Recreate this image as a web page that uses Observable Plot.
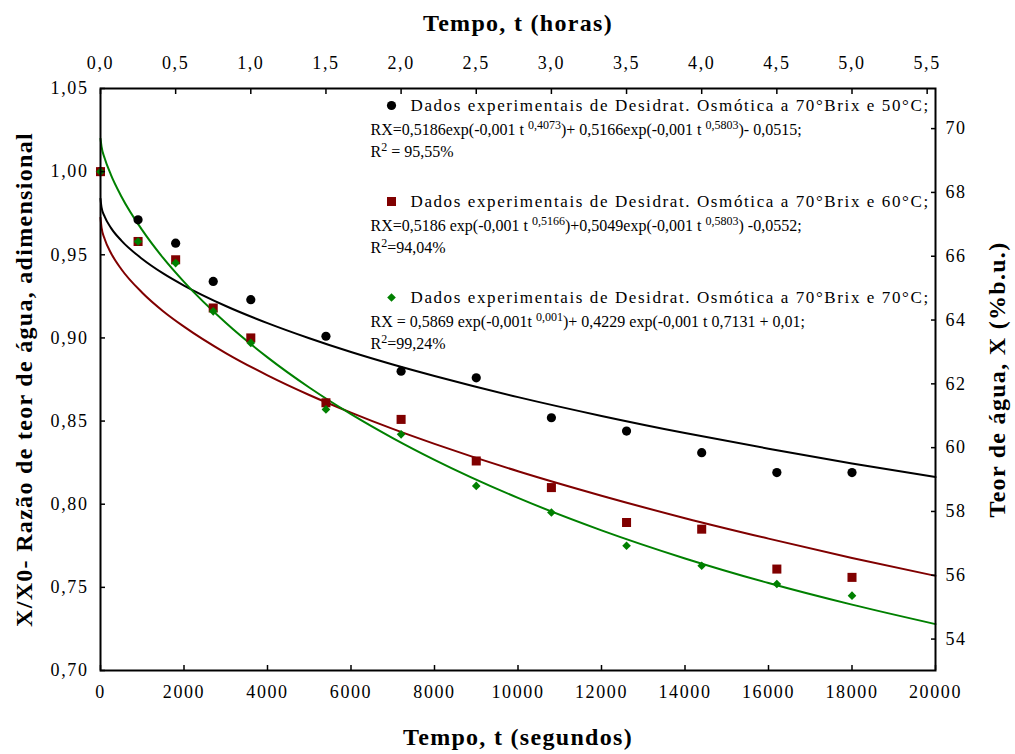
<!DOCTYPE html>
<html>
<head>
<meta charset="utf-8">
<script src="https://cdn.jsdelivr.net/npm/d3@7"></script>
<script src="https://cdn.jsdelivr.net/npm/@observablehq/plot@0.6"></script>
<style>
  html, body { margin: 0; padding: 0; background: #fff; }
</style>
</head>
<body>
<div id="chart"></div>
<script>
// ---- Data ----
const timesS = [0, 900, 1800, 2700, 3600, 5400, 7200, 9000, 10800, 12600, 14400, 16200, 18000];
const ratio50 = [1.000, 0.971, 0.957, 0.934, 0.923, 0.901, 0.880, 0.876, 0.852, 0.844, 0.831, 0.819, 0.819];
const ratio60 = [1.000, 0.958, 0.947, 0.918, 0.900, 0.861, 0.851, 0.826, 0.810, 0.789, 0.785, 0.761, 0.756];
const ratio70 = [1.000, 0.958, 0.945, 0.916, 0.897, 0.857, 0.842, 0.811, 0.795, 0.775, 0.763, 0.752, 0.745];

const fitT  = [0, 25, 100, 250, 500, 1000, 1500, 2000, 3000, 4000, 5000, 6000, 7000, 8000, 10000, 12000, 14000, 16000, 18000, 20000];
const fit50 = [0.9837, 0.9785, 0.9729, 0.9662, 0.9585, 0.9475, 0.9388, 0.9315, 0.9192, 0.9089, 0.8998, 0.8915, 0.8840, 0.8771, 0.8644, 0.8531, 0.8428, 0.8334, 0.8245, 0.8163];
const fit60 = [0.9723, 0.9663, 0.9595, 0.9511, 0.9413, 0.9272, 0.9161, 0.9068, 0.8909, 0.8775, 0.8657, 0.8551, 0.8453, 0.8363, 0.8198, 0.8051, 0.7916, 0.7793, 0.7677, 0.7569];
const fit70 = [1.0198, 1.0150, 1.0081, 0.9981, 0.9851, 0.9648, 0.9481, 0.9337, 0.9091, 0.8883, 0.8702, 0.8542, 0.8398, 0.8267, 0.8038, 0.7843, 0.7674, 0.7526, 0.7396, 0.7279];

const xTicks = [0, 2000, 4000, 6000, 8000, 10000, 12000, 14000, 16000, 18000, 20000];
const hourTicks = [0, 0.5, 1, 1.5, 2, 2.5, 3, 3.5, 4, 4.5, 5, 5.5];
const yTicks = [0.70, 0.75, 0.80, 0.85, 0.90, 0.95, 1.00, 1.05];
const rightTicks = [54, 56, 58, 60, 62, 64, 66, 68, 70];
// right axis (Teor de água) as a linear re-labelling of the left scale
const rightRatioAt54 = 0.7189, rightRatioPerUnit = 0.019186;

const seriesColors = ["#000000", "#800000", "#008000"];
const seriesSymbols = ["circle", "square", "diamond2"];
const seriesR = [4.6, 5.1, 3.9];

const legendHeaders = [
  "Dados experimentais de Desidrat. Osmótica a 70°Brix e 50°C;",
  "Dados experimentais de Desidrat. Osmótica a 70°Brix e 60°C;",
  "Dados experimentais de Desidrat. Osmótica a 70°Brix e 70°C;"
];
const legendFormulas = [
  "RX=0,5186exp(-0,001 t ^{0,4073})+ 0,5166exp(-0,001 t ^{0,5803})- 0,0515;",
  "RX=0,5186 exp(-0,001 t ^{0,5166})+0,5049exp(-0,001 t ^{0,5803}) -0,0552;",
  "RX = 0,5869 exp(-0,001t ^{0,001})+ 0,4229 exp(-0,001 t 0,7131 + 0,01;"
];
const legendR2 = ["R^{2} = 95,55%", "R^{2}=94,04%", "R^{2}=99,24%"];

// ---- Build tables ----
const obsValues = [ratio50, ratio60, ratio70];
const fitValues = [fit50, fit60, fit70];
const toRatio = v => rightRatioAt54 + (v - 54) * rightRatioPerUnit;
const fromRatio = r => 54 + (r - rightRatioAt54) / rightRatioPerUnit;
const comma = (v, n) => v.toFixed(n).replace(".", ",");
const serif = "'Liberation Serif', 'Times New Roman', serif";

const marks = [];
fitValues.forEach((vals, s) => {
  const rows = fitT.map((t, i) => ({t, r: vals[i]}));
  marks.push(Plot.line(rows, {x: "t", y: "r", stroke: seriesColors[s], strokeWidth: 2, curve: "monotone-x"}));
});
obsValues.forEach((vals, s) => {
  const rows = timesS.map((t, i) => ({t, r: vals[i]}));
  marks.push(Plot.dot(rows, {x: "t", y: "r", symbol: seriesSymbols[s], r: seriesR[s], fill: seriesColors[s], stroke: "none"}));
});

marks.push(Plot.frame({stroke: "black", strokeWidth: 2}));
const axisCommon = {tickSize: -5, strokeWidth: 1.5, fontSize: 18, fontFamily: serif, label: null, fill: "black"};
marks.push(Plot.axisX(xTicks, {...axisCommon, anchor: "bottom", tickPadding: 20, tickFormat: d => String(d)}));
marks.push(Plot.axisX(hourTicks.map(h => h * 3600), {...axisCommon, anchor: "top", tickPadding: 25, tickFormat: d => comma(d / 3600, 1)}));
marks.push(Plot.axisY(yTicks, {...axisCommon, anchor: "left", tickPadding: 17, tickFormat: d => comma(d, 2)}));
marks.push(Plot.axisY(rightTicks.map(toRatio), {...axisCommon, anchor: "right", tickPadding: 15, tickFormat: d => String(Math.round(fromRatio(d)))}));

const titleStyle = {fontSize: 24, fontWeight: "bold", fontFamily: serif, fill: "black", textAnchor: "middle", lineAnchor: "middle"};
marks.push(Plot.text(["Tempo, t (horas)"], {...titleStyle, frameAnchor: "top", dy: -65}));
marks.push(Plot.text(["Tempo, t (segundos)"], {...titleStyle, frameAnchor: "bottom", dy: 67}));
marks.push(Plot.text(["X/X0- Razão de teor de água, adimensional"], {...titleStyle, frameAnchor: "left", dx: -76, rotate: -90}));
marks.push(Plot.text(["Teor de água, X (%b.u.)"], {...titleStyle, frameAnchor: "right", dx: 62, rotate: -90}));

legendHeaders.forEach((h, i) => {
  const top = 17 + i * 96;
  marks.push(Plot.dot([h], {frameAnchor: "top-left", dx: 291, dy: top, symbol: seriesSymbols[i], r: seriesR[i], fill: seriesColors[i], stroke: "none"}));
  marks.push(Plot.text([h], {frameAnchor: "top-left", dx: 310, dy: top, textAnchor: "start", lineAnchor: "middle", fontSize: 17, fontFamily: serif, fill: "black"}));
  marks.push(Plot.text([legendFormulas[i]], {frameAnchor: "top-left", dx: 270, dy: top + 24, textAnchor: "start", lineAnchor: "middle", fontSize: 16, fontFamily: serif, fill: "black"}));
  marks.push(Plot.text([legendR2[i]], {frameAnchor: "top-left", dx: 270, dy: top + 46.5, textAnchor: "start", lineAnchor: "middle", fontSize: 16, fontFamily: serif, fill: "black"}));
});

const plot = Plot.plot({
  width: 1015,
  height: 754,
  marginLeft: 100,
  marginRight: 80,
  marginTop: 88,
  marginBottom: 84,
  style: {fontFamily: serif, fontSize: "18px", background: "white", color: "black"},
  x: {domain: [0, 20000], label: null},
  y: {domain: [0.70, 1.05], label: null},
  marks
});

// letter spacing to match the reference's wide text rendering
const svg = d3.select(plot);
svg.selectAll("g[aria-label$='tick label'] text").attr("letter-spacing", "1.6px");
svg.selectAll("text").each(function () {
  const s = this.textContent;
  if (s.startsWith("Dados")) d3.select(this).attr("letter-spacing", "1.6px");
  if (s.startsWith("Tempo") || s.startsWith("X/X0") || s.startsWith("Teor")) d3.select(this).attr("letter-spacing", "1.3px");
});

// superscripts: turn ^{...} into raised tspans
svg.selectAll("text").each(function () {
  const s = this.textContent;
  if (!s.includes("^{")) return;
  const parts = s.split(/\^\{([^}]*)\}/);
  const sel = d3.select(this);
  sel.text(null);
  let raised = false;
  parts.forEach((p, k) => {
    if (p === "") return;
    const sup = k % 2 === 1;
    const ts = sel.append("tspan").text(p);
    if (sup) { ts.attr("dy", -6).attr("font-size", 12); raised = true; }
    else if (raised) { ts.attr("dy", 6); raised = false; }
  });
});

document.getElementById("chart").appendChild(plot);
</script>
</body>
</html>
